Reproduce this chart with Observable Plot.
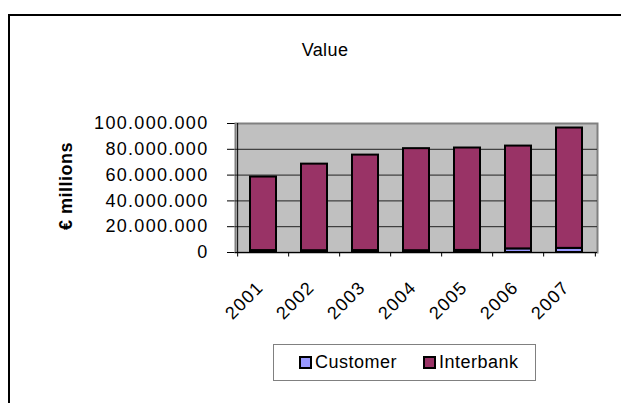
<!DOCTYPE html>
<html>
<head>
<meta charset="utf-8">
<script src="https://cdn.jsdelivr.net/npm/d3@7"></script>
<script src="https://cdn.jsdelivr.net/npm/@observablehq/plot@0.6"></script>
<style>
  html, body { margin: 0; padding: 0; background: #fff; }
  #wrap { position: relative; width: 621px; height: 403px; overflow: hidden; font-family: 'Liberation Sans', Arial, sans-serif; color: #000; }
  #frame { position: absolute; left: 8px; top: 14px; width: 700px; height: 500px; border: 2px solid #000; box-sizing: border-box; }
  #chart { position: absolute; left: 0; top: 0; }
  #title { position: absolute; left: 225px; width: 200px; top: 40px; text-align: center; font-size: 18px; letter-spacing: 0.4px; }
  #ylabel { position: absolute; left: 66px; top: 186px; transform: translate(-50%, -50%) rotate(-90deg); font-weight: bold; font-size: 18px; letter-spacing: 0.5px; white-space: nowrap; }
  #legend { position: absolute; left: 273px; top: 344px; width: 263px; height: 37px; border: 1px solid #808080; box-sizing: border-box; background: #fff; }
  .item { position: absolute; top: 0; height: 35px; display: flex; align-items: center; font-size: 18px; letter-spacing: 0.5px; }
  .sw { width: 9px; height: 9px; border: 2px solid #000; margin-right: 3px; }
</style>
</head>
<body>
<div id="wrap">
  <div id="frame"></div>
  <div id="chart"></div>
  <div id="title"></div>
  <div id="ylabel"></div>
  <div id="legend"></div>
</div>
<script>
const years = ["2001", "2002", "2003", "2004", "2005", "2006", "2007"];
const customer = [1.5e6, 1.4e6, 1.5e6, 1.4e6, 1.6e6, 2.8e6, 3.2e6];
const interbank = [57.0e6, 67.1e6, 74.0e6, 79.1e6, 79.4e6, 79.7e6, 93.3e6];
const seriesNames = ["Customer", "Interbank"];
const seriesColors = ["#9999ff", "#993366"];
const yTicks = [0, 20e6, 40e6, 60e6, 80e6, 100e6];
const titleText = "Value";
const yLabelText = "€ millions";

const data = [];
years.forEach((y, i) => {
  data.push({year: y, series: "Customer", value: customer[i]});
  data.push({year: y, series: "Interbank", value: interbank[i]});
});

const W = 621, H = 403;
const mLeft = 235, mRight = 24, mTop = 123, mBottom = 151;
const step = (W - mLeft - mRight) / years.length;
const fmt = d => d3.format(",")(d).replace(/,/g, ".");

const chart = Plot.plot({
  width: W,
  height: H,
  marginLeft: mLeft,
  marginRight: mRight,
  marginTop: mTop,
  marginBottom: mBottom,
  style: {fontFamily: "'Liberation Sans', Arial, sans-serif", fontSize: "18px", letterSpacing: "1.3px", background: "transparent", color: "#000"},
  x: {domain: years, paddingInner: 0.5, paddingOuter: 0.25, axis: null},
  y: {domain: [0, 100e6], ticks: yTicks, tickFormat: fmt, tickSize: 8, tickPadding: 19, label: null},
  color: {domain: seriesNames, range: seriesColors},
  marks: [
    Plot.frame({fill: "#c0c0c0", stroke: "#808080", strokeWidth: 2}),
    Plot.ruleY(yTicks.filter(d => d > 0 && d < 100e6), {stroke: "#222", strokeWidth: 1}),
    Plot.barY(data, {x: "year", y: "value", fill: "series", order: seriesNames, stroke: "#000", strokeWidth: 2}),
    Plot.ruleY([0], {stroke: "#000", strokeWidth: 1}),
    Plot.ruleX([years[0]], {x: d => d, dx: -step / 2, y1: -3.5e6, y2: 100e6, stroke: "#000", strokeWidth: 1}),
    Plot.ruleX(years.slice(1), {x: d => d, dx: -step / 2, y1: -3.5e6, y2: 0, stroke: "#000", strokeWidth: 1}),
    Plot.ruleX([years[years.length - 1]], {x: d => d, dx: step / 2, y1: -3.5e6, y2: 0, stroke: "#000", strokeWidth: 1}),
    Plot.text(years, {x: d => d, frameAnchor: "bottom", dx: 1, dy: 36, rotate: -45, textAnchor: "end", lineAnchor: "bottom", fontSize: 18, fill: "#000"})
  ]
});
document.getElementById("chart").appendChild(chart);

document.getElementById("title").textContent = titleText;
document.getElementById("ylabel").textContent = yLabelText;

const legend = document.getElementById("legend");
const itemLefts = [25, 149];
seriesNames.forEach((name, i) => {
  const it = document.createElement("div");
  it.className = "item";
  it.style.left = itemLefts[i] + "px";
  const sw = document.createElement("div");
  sw.className = "sw";
  sw.style.background = seriesColors[i];
  const tx = document.createElement("span");
  tx.textContent = name;
  it.appendChild(sw);
  it.appendChild(tx);
  legend.appendChild(it);
});
</script>
</body>
</html>
